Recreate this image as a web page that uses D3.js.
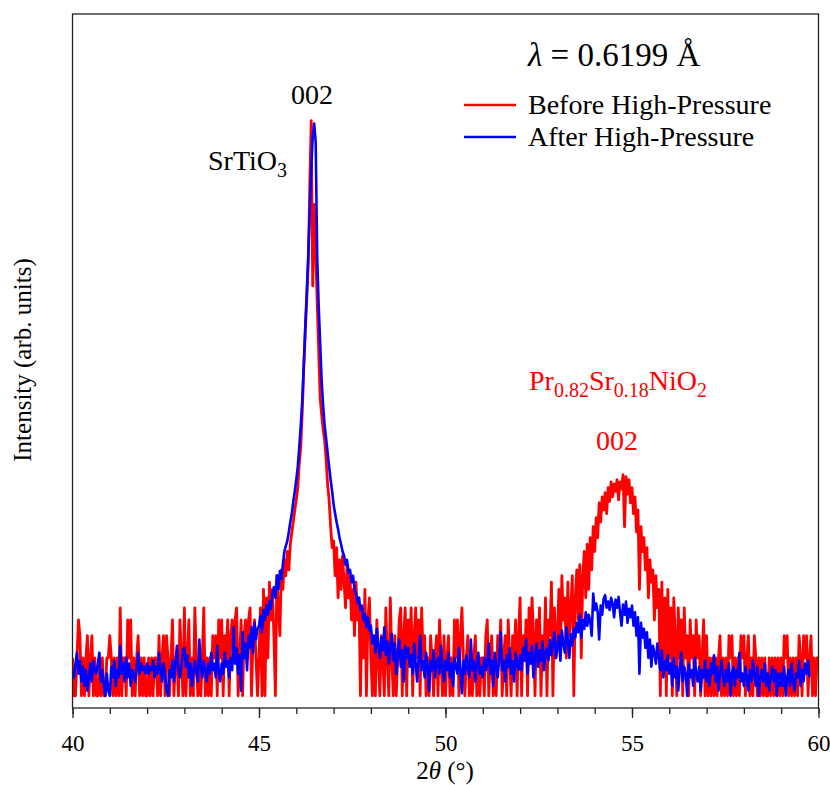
<!DOCTYPE html>
<html>
<head>
<meta charset="utf-8">
<script src="https://cdn.jsdelivr.net/npm/d3@7"></script>
<style>
  body { margin: 0; background: #fff; }
  svg text { font-family: "Liberation Serif", "Times New Roman", serif; }
</style>
</head>
<body>
<svg id="chart" width="830" height="785"></svg>
<script>
// === scan grid (2theta, degrees) ===
const thetaStart = 40;
const thetaStep = 0.04;

// intensities, one row per degree (40.00 ... 40.96, 41.00 ...)
const beforeHP = [
  2,1,1,2,4,3,1,2,1,2,3,1,2,3,1,2,1,1,2,1,2,1,1,2,2,
  3,2,1,2,1,2,1,5,1,2,2,1,4,2,4,1,2,1,2,3,1,2,1,2,1,
  1,2,1,2,1,2,2,1,3,1,2,3,1,3,2,1,2,4,1,2,2,1,4,2,1,
  5,1,2,4,1,2,1,5,2,1,2,1,2,5,1,2,1,2,1,3,2,3,1,4,2,
  4,1,3,2,4,1,3,4,2,4,5,1,2,4,1,3,4,2,4,5,1,3,4,2,1,
  2,5,1,7,1,6,2,8,4,7,3,1,9,5,3,10,7,12,9,14,10,16,20,24,30,
  36,45,70,95,180,400,750,1390,2650,11000,37000,1800,8000,3300,1340,550,230,170,130,107,75,47,36,22,15,
  17,9,15,6,12,7,13,8,5,11,6,9,4,7,3,8,4,6,1,5,2,7,1,4,6,
  2,1,3,1,4,2,1,3,2,1,5,2,1,6,2,1,3,1,2,4,5,1,3,5,1,
  4,2,5,1,3,5,2,4,1,5,2,3,1,2,1,3,2,1,2,3,1,4,2,1,3,
  1,2,3,1,2,1,4,2,4,1,3,5,2,1,2,3,1,2,1,2,3,1,2,1,2,
  2,1,3,4,1,2,3,1,2,1,3,2,4,1,2,3,1,4,2,1,3,2,4,1,3,
  6,1,3,2,4,1,5,2,6,3,1,4,2,5,1,3,2,6,1,4,3,8,1,5,2,
  3,7,2,9,4,6,2,8,3,5,9,1,6,10,4,11,2,9,14,6,16,7,18,10,22,
  14,26,18,34,24,38,30,41,28,45,35,50,38,48,42,52,36,50,44,57,22,55,40,52,34,
  45,28,38,20,30,7,22,14,18,10,15,6,12,8,10,4,9,5,7,1,8,2,6,1,7,
  2,5,1,6,3,1,5,2,4,1,5,2,3,1,4,2,3,1,4,2,3,1,2,4,1,
  3,1,2,1,2,1,2,1,2,3,1,2,1,2,1,3,2,3,1,2,1,2,1,3,2,
  3,1,2,3,1,2,1,3,2,1,2,1,2,1,2,1,1,2,1,2,1,2,1,2,1,
  2,1,3,2,3,1,2,1,2,1,2,1,3,2,1,3,2,3,1,2,3,1,2,1,2,
  2
];

const afterHP = [
  1.6,1.4,1.8,2.2,1.5,1.9,1.3,1.7,1.2,1.6,1.1,1.4,1.8,1.3,1.9,1.6,1.5,1.8,2.2,1.3,1.6,1.2,1.0,1.5,1.1,
  1.0,1.7,1.4,1.9,1.2,1.6,1.4,2.5,1.5,1.8,1.3,2.0,1.4,1.8,1.2,1.6,1.5,1.3,1.7,2.2,1.5,1.8,1.6,1.7,1.5,
  1.8,1.5,1.7,1.6,1.9,1.4,1.7,1.5,2.2,1.6,1.3,1.8,1.5,1.1,1.0,1.6,1.4,1.9,1.3,1.8,2.5,1.6,1.4,1.7,2.3,
  2.4,1.7,2.1,1.4,1.8,1.2,1.6,1.9,1.5,1.3,2.8,1.7,1.4,1.9,1.6,1.3,1.8,1.5,2.2,1.6,1.8,1.4,2.5,1.6,1.3,
  1.8,1.5,2.2,1.7,1.9,1.4,2.0,1.6,3.5,1.8,2.4,1.5,2.1,1.1,3.2,2.0,2.6,1.6,3.0,2.4,3.5,2.2,3.8,2.8,3.4,
  3.6,4.3,3.2,4.8,4.0,5.2,4.4,5.6,4.9,6.5,7.3,6.0,9.0,7.0,9.8,8.5,11,14,15.5,17,20,24,28,35,42,
  52,66,95,140,220,420,850,1590,3090,6860,14900,28000,35000,25000,3100,1240,630,314,200,140,110,85,66,52,42,
  33,28,24,21,18,16,14,13,11,12,9.5,10,8,9,7,6.5,5.5,6,4.8,5.2,4.0,4.5,3.5,4.2,3.3,
  3.6,2.6,3.0,2.2,3.4,2.5,2.0,2.9,2.3,3.5,2.1,2.7,1.8,2.4,3.1,1.9,2.6,1.5,2.2,2.8,1.7,2.3,1.3,2.5,2.0,
  2.4,1.7,2.1,1.5,2.6,1.8,1.3,2.0,3.0,1.6,1.9,1.4,2.2,1.7,1.1,1.9,1.6,2.3,1.4,1.8,2.0,1.5,2.5,1.7,1.3,
  1.9,1.6,2.2,1.4,1.8,1.2,2.0,1.7,1.5,2.4,1.6,1.05,1.9,1.5,2.1,1.7,1.4,2.8,1.6,1.9,1.3,1.8,2.2,1.5,1.7,
  1.4,2.0,1.6,1.8,2.6,1.5,1.9,1.2,2.2,1.7,1.4,2.0,3.2,1.6,1.9,1.3,2.1,1.7,2.4,1.5,1.9,1.3,2.2,1.8,1.6,
  2.1,1.6,2.4,1.9,2.8,1.5,2.2,1.8,2.5,1.4,2.0,2.6,1.7,2.3,1.9,2.7,1.6,2.2,2.4,1.9,2.8,2.1,2.6,3.2,2.0,
  2.4,3.0,1.9,3.3,2.6,2.2,3.5,2.8,2.0,3.1,2.5,3.4,2.9,3.8,3.2,4.4,2.9,4.0,3.4,4.6,3.6,4.4,3.9,3.0,6.5,
  4.8,5.4,4.6,2.8,5.2,4.4,5.9,6.3,5.0,5.6,4.8,6.0,5.4,4.2,5.8,5.0,6.1,4.6,3.6,5.3,4.4,5.6,3.8,4.9,4.2,
  5.2,3.6,4.6,3.0,4.2,1.5,3.8,2.9,3.4,2.4,3.2,2.0,2.8,1.7,2.5,2.2,1.8,2.6,2.0,1.6,2.3,1.4,1.9,1.6,2.1,
  1.5,1.8,1.2,2.0,1.4,1.7,1.1,1.6,2.2,1.3,1.7,1.5,1.0,1.8,1.4,1.6,1.2,2.0,1.5,1.3,1.7,1.1,1.6,1.4,1.9,
  1.3,1.6,1.2,1.8,1.5,2.1,1.3,1.7,1.1,1.5,1.9,1.4,1.2,1.6,1.3,1.8,1.0,1.5,1.7,1.2,1.6,1.4,2.2,1.3,1.5,
  1.2,1.7,1.4,1.1,1.6,1.3,1.9,1.5,1.2,1.7,1.0,1.4,1.6,1.3,1.8,1.2,1.5,1.1,1.4,1.7,1.3,1.6,1.0,1.5,1.2,
  1.5,1.2,1.7,1.0,1.4,1.6,1.2,1.8,1.3,1.1,1.5,1.4,1.9,1.2,1.6,1.3,1.8,1.5,1.9,1.4
];

const majorTicks = [40, 45, 50, 55, 60];
const minorTicks = d3.range(40, 61, 1);
const seriesNames = ['Before High-Pressure', 'After High-Pressure'];
const seriesColors = ['#ff0000', '#0000ff'];
const seriesWidths = [2.8, 2.6];

// === layout ===
const svg = d3.select('#chart');
const plotLeft = 72.5, plotRight = 818.5, plotTop = 14, plotBottom = 708;
const serif = '"Liberation Serif", "Times New Roman", serif';

const x = d3.scaleLinear().domain([40, 60]).range([plotLeft, plotRight]);
const y = d3.scaleLog().domain([0.8, 260000]).range([plotBottom, plotTop]);

svg.append('clipPath').attr('id', 'plotClip')
  .append('rect')
  .attr('x', plotLeft).attr('y', plotTop)
  .attr('width', plotRight - plotLeft).attr('height', plotBottom - plotTop);

const toPoints = arr => arr.map((v, i) => [thetaStart + i * thetaStep, v]);

const line = d3.line()
  .x(d => x(d[0]))
  .y(d => y(d[1]));

const plot = svg.append('g').attr('clip-path', 'url(#plotClip)');

// red first, blue drawn over it
[beforeHP, afterHP].forEach((arr, idx) => {
  plot.append('path')
    .datum(toPoints(arr))
    .attr('d', line)
    .attr('fill', 'none')
    .attr('stroke', seriesColors[idx])
    .attr('stroke-width', seriesWidths[idx])
    .attr('stroke-linejoin', 'round');
});

// === frame + bottom axis ===
svg.append('rect')
  .attr('x', plotLeft).attr('y', plotTop)
  .attr('width', plotRight - plotLeft).attr('height', plotBottom - plotTop)
  .attr('fill', 'none')
  .attr('stroke', '#222')
  .attr('stroke-width', 1.3);

const minorAxis = svg.append('g')
  .attr('transform', `translate(0,${plotBottom})`)
  .call(d3.axisBottom(x).tickValues(minorTicks).tickSize(6).tickFormat(''));
minorAxis.select('.domain').remove();

const majorAxis = svg.append('g')
  .attr('transform', `translate(0,${plotBottom})`)
  .attr('font-family', serif)
  .call(d3.axisBottom(x).tickValues(majorTicks).tickSize(10).tickPadding(17).tickFormat(d3.format('d')));
majorAxis.attr('font-family', serif);
majorAxis.select('.domain').remove();
majorAxis.selectAll('text')
  .attr('font-size', 23)
  .attr('fill', '#000');
svg.selectAll('.tick line').attr('stroke', '#222').attr('stroke-width', 1.3);

// axis titles
const xTitle = svg.append('text')
  .attr('x', 445).attr('y', 779)
  .attr('text-anchor', 'middle')
  .attr('font-size', 25);
xTitle.append('tspan').text('2');
xTitle.append('tspan').attr('font-style', 'italic').text('θ');
xTitle.append('tspan').text(' (°)');

svg.append('text')
  .attr('transform', 'translate(31,360) rotate(-90)')
  .attr('text-anchor', 'middle')
  .attr('font-size', 25)
  .text('Intensity (arb. units)');

// === annotations ===
const lam = svg.append('text')
  .attr('x', 528).attr('y', 66)
  .attr('font-size', 33);
lam.append('tspan').attr('font-style', 'italic').text('λ');
lam.append('tspan').text(' = 0.6199 Å');

seriesNames.forEach((name, idx) => {
  const ly = 105 + idx * 32;
  svg.append('line')
    .attr('x1', 464).attr('x2', 516)
    .attr('y1', ly).attr('y2', ly)
    .attr('stroke', seriesColors[idx])
    .attr('stroke-width', 2.4);
  svg.append('text')
    .attr('x', 528).attr('y', ly + 9)
    .attr('font-size', 28)
    .text(name);
});

svg.append('text')
  .attr('x', 312).attr('y', 104)
  .attr('text-anchor', 'middle')
  .attr('font-size', 28)
  .text('002');

const sto = svg.append('text')
  .attr('x', 208).attr('y', 170)
  .attr('font-size', 28);
sto.append('tspan').text('SrTiO');
sto.append('tspan').attr('dy', 7).attr('font-size', 20).text('3');

const psno = svg.append('text')
  .attr('x', 529).attr('y', 390)
  .attr('font-size', 28)
  .attr('fill', '#ff0000');
[['Pr', false], ['0.82', true], ['Sr', false], ['0.18', true], ['NiO', false], ['2', true]]
  .forEach(([t, sub]) => {
    psno.append('tspan')
      .attr('dy', sub ? 7 : -7)
      .attr('font-size', sub ? 20 : 28)
      .text(t);
  });
psno.select('tspan').attr('dy', 0);

svg.append('text')
  .attr('x', 617).attr('y', 450)
  .attr('text-anchor', 'middle')
  .attr('font-size', 28)
  .attr('fill', '#ff0000')
  .text('002');
</script>
</body>
</html>
